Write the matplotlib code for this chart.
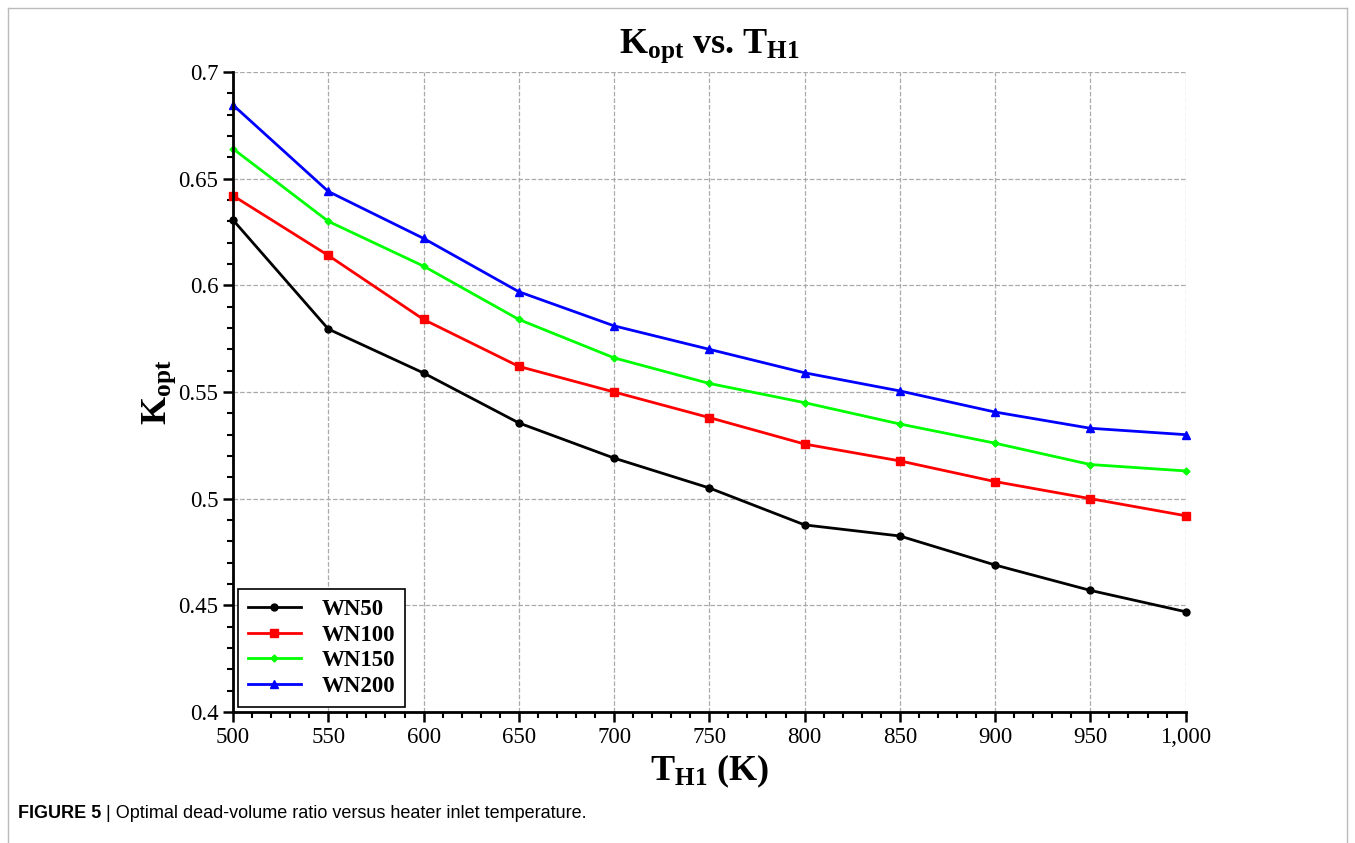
import matplotlib
matplotlib.use("Agg")
from matplotlib import pyplot as plt
from matplotlib.ticker import MultipleLocator, FuncFormatter
from matplotlib.lines import Line2D

# ... data
temps = [500, 550, 600, 650, 700, 750, 800, 850, 900, 950, 1000]
wn50 = [0.6306, 0.5795, 0.5589, 0.5355, 0.519, 0.505, 0.4877, 0.4825, 0.4689, 0.457, 0.447]
wn100 = [0.642, 0.614, 0.584, 0.562, 0.550, 0.538, 0.5256, 0.5177, 0.508, 0.500, 0.492]
wn150 = [0.664, 0.630, 0.609, 0.584, 0.566, 0.554, 0.545, 0.535, 0.526, 0.516, 0.513]
wn200 = [0.6845, 0.644, 0.622, 0.597, 0.581, 0.570, 0.559, 0.5505, 0.5406, 0.533, 0.530]
names = ["WN50", "WN100", "WN150", "WN200"]
# ...

plt.rcParams["font.family"] = "Liberation Serif"
plt.rcParams["mathtext.fontset"] = "custom"
plt.rcParams["mathtext.rm"] = "Liberation Serif"
plt.rcParams["mathtext.bf"] = "Liberation Serif:bold"

fig = plt.figure(figsize=(13.55, 8.43), dpi=100)
ax = fig.add_axes([0.172, 0.1554, 0.703, 0.7592])

styles = [("black", "o", 5), ("red", "s", 6), ("#00ff00", "D", 3.5), ("blue", "^", 5.5)]
for vals, name, (c, m, ms) in zip([wn50, wn100, wn150, wn200], names, styles):
    ax.plot(temps, vals, color=c, marker=m, markersize=ms, linewidth=2, label=name, clip_on=False)

ax.set_xlim(500, 1000)
ax.set_ylim(0.4, 0.7)
ax.xaxis.set_major_locator(MultipleLocator(50))
ax.xaxis.set_minor_locator(MultipleLocator(10))
ax.yaxis.set_major_locator(MultipleLocator(0.05))
ax.yaxis.set_minor_locator(MultipleLocator(0.01))
ax.xaxis.set_major_formatter(FuncFormatter(lambda v, p: f"{int(v):,}"))
ax.yaxis.set_major_formatter(FuncFormatter(lambda v, p: f"{v:g}"))

ax.grid(True, which="major", color="#aaaaaa", linestyle="--", linewidth=0.9)
for s in ["top", "right"]:
    ax.spines[s].set_visible(False)
for s in ["left", "bottom"]:
    ax.spines[s].set_linewidth(2)
ax.tick_params(which="major", direction="out", length=7, width=1.8, labelsize=16.5)
ax.tick_params(which="minor", direction="out", length=4, width=1.5)

ax.set_title(r"$\mathbf{K_{opt}}$ vs. $\mathbf{T_{H1}}$", fontsize=26, weight="bold", pad=14)
ax.set_xlabel(r"$\mathbf{T_{H1}}$ (K)", fontsize=26, weight="bold", labelpad=4)
ax.set_ylabel(r"$\mathbf{K_{opt}}$", fontsize=26)
ax.yaxis.set_label_coords(-0.058, 0.5)

leg = ax.legend(loc="lower left", prop={"weight": "bold", "size": 16.5}, fancybox=False,
                edgecolor="black", framealpha=1, borderaxespad=0.2, handlelength=2.3,
                labelspacing=0.2, borderpad=0.45, handletextpad=0.9)
leg.get_frame().set_linewidth(1.2)

# figure frame and caption
for xs, ys in [([0.006, 0.006], [0.0, 0.99]), ([0.006, 0.994], [0.99, 0.99]), ([0.994, 0.994], [0.0, 0.99])]:
    fig.add_artist(Line2D(xs, ys, color="#bbbbbb", linewidth=1, transform=fig.transFigure))
fig.text(0.013, 0.035, "FIGURE 5", family="Liberation Sans", weight="bold", fontsize=13, va="center")
fig.text(0.078, 0.035, "| Optimal dead-volume ratio versus heater inlet temperature.",
         family="Liberation Sans", fontsize=13, va="center")

plt.savefig("out.png", dpi=100)
